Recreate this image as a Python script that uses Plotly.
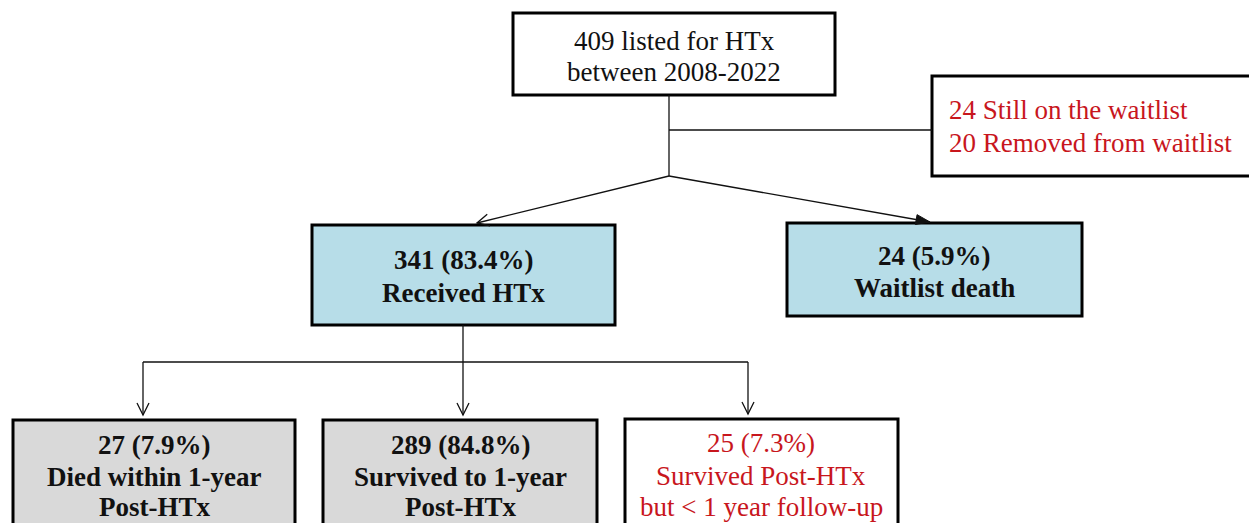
import math
import plotly.graph_objects as go

W, H = 1257, 523
OFF = 8  # default page body margin in the browser
FONT = "Liberation Serif, Times New Roman, serif"
RED = "#c8161d"
BLUE = "#b7dde8"
GRAY = "#d9d9d9"
INK = "#111111"

# ---- node texts (data) ----
top_lines = ["409 listed for HTx", "between 2008-2022"]
side_lines = ["24 Still on the waitlist", "20 Removed from waitlist"]
received_lines = ["341 (83.4%)", "Received HTx"]
death_lines = ["24 (5.9%)", "Waitlist death"]
died_lines = ["27 (7.9%)", "Died within 1-year", "Post-HTx"]
survived_lines = ["289 (84.8%)", "Survived to 1-year", "Post-HTx"]
followup_lines = ["25 (7.3%)", "Survived Post-HTx", "but < 1 year follow-up"]

# ---- layout of nodes (positions/styles) ----
nodes = [
    dict(lines=top_lines, box=(513, 13, 835, 95), fill="white", color=INK, bold=False,
         tx=674, ty=[41, 72], align="center"),
    dict(lines=side_lines, box=(932, 76, 1255, 176), fill="white", color=RED, bold=False,
         tx=947, ty=[110, 143], align="left"),
    dict(lines=received_lines, box=(312, 225, 615, 325), fill=BLUE, color=INK, bold=True,
         tx=463, ty=[260, 293], align="center"),
    dict(lines=death_lines, box=(787, 223, 1082, 316), fill=BLUE, color=INK, bold=True,
         tx=934, ty=[256, 288], align="center"),
    dict(lines=died_lines, box=(13, 420, 295, 545), fill=GRAY, color=INK, bold=True,
         tx=154, ty=[445, 477, 507], align="center"),
    dict(lines=survived_lines, box=(323, 420, 597, 545), fill=GRAY, color=INK, bold=True,
         tx=460, ty=[445, 477, 507], align="center"),
    dict(lines=followup_lines, box=(625, 419, 898, 545), fill="white", color=RED, bold=False,
         tx=761, ty=[443, 476, 507], align="center"),
]

shapes = []
annotations = []

LW = 1.3


def seg(x0, y0, x1, y1):
    shapes.append(dict(type="line", x0=x0, y0=y0, x1=x1, y1=y1, xref="x", yref="y",
                       line=dict(color=INK, width=LW), layer="above"))


def arrow_head(x0, y0, x1, y1, filled=False, length=12, half=6):
    dx, dy = x1 - x0, y1 - y0
    d = math.hypot(dx, dy)
    ux, uy = dx / d, dy / d
    nx, ny = -uy, ux
    bx, by = x1 - length * ux, y1 - length * uy
    p1 = (bx + half * nx, by + half * ny)
    p2 = (bx - half * nx, by - half * ny)
    if filled:
        path = f"M{x1},{y1} L{p1[0]},{p1[1]} L{p2[0]},{p2[1]} Z"
        shapes.append(dict(type="path", path=path, xref="x", yref="y",
                           fillcolor=INK, line=dict(color=INK, width=1), layer="above"))
    else:
        path = f"M{p1[0]},{p1[1]} L{x1},{y1} L{p2[0]},{p2[1]}"
        shapes.append(dict(type="path", path=path, xref="x", yref="y",
                           line=dict(color=INK, width=LW), layer="above"))


def arrow(x0, y0, x1, y1, filled=False, **kw):
    seg(x0, y0, x1, y1)
    arrow_head(x0, y0, x1, y1, filled=filled, **kw)


# connectors
seg(669, 95, 669, 176)
seg(669, 130, 932, 130)
arrow(669, 176, 477, 223)
arrow(669, 176, 930, 222, filled=True, length=14, half=5)
seg(463, 325, 463, 362)
seg(143, 362, 748, 362)
arrow(143, 362, 143, 415)
arrow(463, 362, 463, 415)
arrow(748, 362, 748, 414)

# boxes and texts
for n in nodes:
    x0, y0, x1, y1 = n["box"]
    shapes.append(dict(type="rect", x0=x0, y0=y0, x1=x1, y1=y1, xref="x", yref="y",
                       fillcolor=n["fill"], line=dict(color="black", width=3), layer="below"))
    for line, y in zip(n["lines"], n["ty"]):
        txt = f"<b>{line}</b>" if n["bold"] else line
        annotations.append(dict(
            x=n["tx"], y=y, xref="x", yref="y", text=txt, showarrow=False,
            xanchor="left" if n["align"] == "left" else "center", yanchor="middle",
            font=dict(family=FONT, size=27, color=n["color"])))

fig = go.Figure()
fig.add_trace(go.Scatter(x=[OFF, W], y=[OFF, H], mode="markers",
                         marker=dict(opacity=0), hoverinfo="skip", showlegend=False))
fig.update_layout(
    width=W - OFF, height=H - OFF,
    margin=dict(l=0, r=0, t=0, b=0),
    paper_bgcolor="white", plot_bgcolor="white",
    xaxis=dict(range=[OFF, W], visible=False, fixedrange=True),
    yaxis=dict(range=[H, OFF], visible=False, fixedrange=True),
    shapes=shapes, annotations=annotations, showlegend=False,
)
fig.write_html("out.html")
